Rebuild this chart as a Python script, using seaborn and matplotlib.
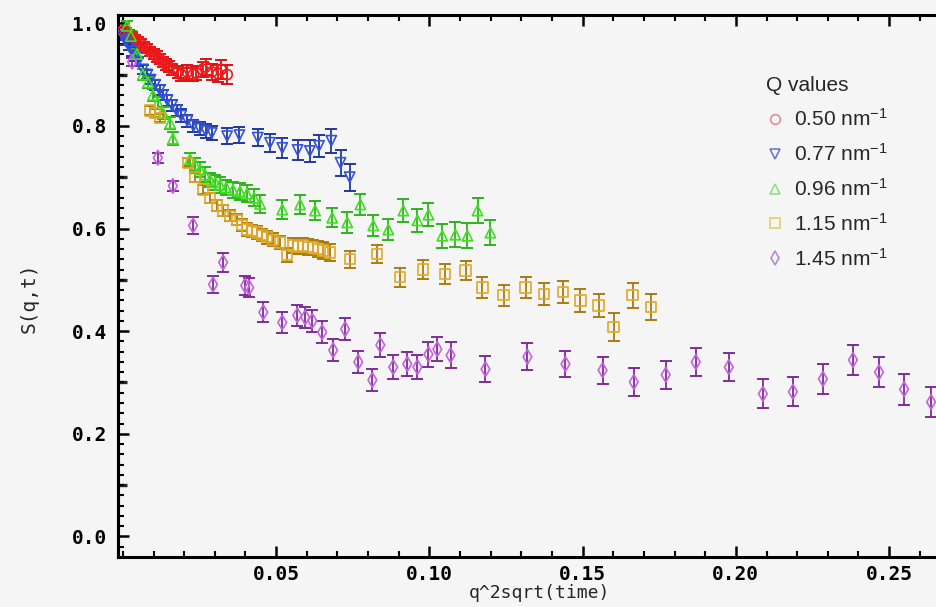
import numpy as np
import pandas as pd
import matplotlib
matplotlib.use("Agg")
import matplotlib.pyplot as plt
from matplotlib.lines import Line2D
from matplotlib.ticker import MultipleLocator, FixedLocator, FormatStrFormatter
import seaborn as sns

# ---------------- data ----------------
q_labels = ["0.50 nm$^{-1}$", "0.77 nm$^{-1}$", "0.96 nm$^{-1}$", "1.15 nm$^{-1}$", "1.45 nm$^{-1}$"]

x_050 = [0.000, 0.001, 0.002, 0.003, 0.004, 0.005, 0.006, 0.007, 0.008, 0.009, 0.010, 0.011, 0.012, 0.013,
         0.014, 0.015, 0.016, 0.018, 0.019, 0.021, 0.023, 0.024, 0.026, 0.027, 0.029, 0.031, 0.032, 0.034]
y_050 = [0.985, 0.982, 0.978, 0.975, 0.970, 0.966, 0.960, 0.955, 0.950, 0.945, 0.940, 0.935, 0.930, 0.925,
         0.920, 0.915, 0.910, 0.905, 0.900, 0.905, 0.900, 0.903, 0.910, 0.915, 0.905, 0.902, 0.910, 0.900]
e_050 = [0.008, 0.008, 0.008, 0.008, 0.008, 0.008, 0.009, 0.009, 0.009, 0.009, 0.010, 0.010, 0.010, 0.010,
         0.011, 0.011, 0.011, 0.012, 0.012, 0.013, 0.013, 0.014, 0.015, 0.016, 0.016, 0.017, 0.018, 0.018]

x_077 = [0.000, 0.001, 0.002, 0.003, 0.004, 0.005, 0.0065, 0.008, 0.009, 0.0105, 0.012, 0.013, 0.0145, 0.016,
         0.0175, 0.019, 0.021, 0.023, 0.025, 0.027, 0.029, 0.034, 0.038, 0.044, 0.048, 0.052, 0.057, 0.061,
         0.064, 0.068, 0.071, 0.074]
y_077 = [0.975, 0.965, 0.955, 0.945, 0.935, 0.925, 0.910, 0.900, 0.890, 0.880, 0.870, 0.860, 0.850, 0.840,
         0.830, 0.820, 0.810, 0.800, 0.795, 0.790, 0.786, 0.780, 0.782, 0.777, 0.767, 0.757, 0.753, 0.751,
         0.761, 0.771, 0.728, 0.700]
e_077 = [0.007, 0.007, 0.007, 0.008, 0.008, 0.008, 0.009, 0.009, 0.009, 0.010, 0.010, 0.010, 0.011, 0.011,
         0.011, 0.012, 0.012, 0.012, 0.013, 0.013, 0.014, 0.015, 0.016, 0.017, 0.018, 0.019, 0.020, 0.021,
         0.022, 0.023, 0.025, 0.026]

x_096 = [0.0013, 0.0026, 0.0046, 0.0065, 0.0082, 0.0098, 0.0114, 0.0131, 0.0154, 0.0163, 0.0219, 0.0235,
         0.0252, 0.0268, 0.0284, 0.0301, 0.0317, 0.0337, 0.0359, 0.0382, 0.0405, 0.0428, 0.0448, 0.0520,
         0.0578, 0.0627, 0.0683, 0.0732, 0.0775, 0.0817, 0.0866, 0.0915, 0.0961, 0.0997, 0.1042, 0.1085,
         0.1124, 0.1157, 0.1199]
y_096 = [0.995, 0.975, 0.940, 0.900, 0.885, 0.860, 0.845, 0.825, 0.805, 0.775, 0.735, 0.725,
         0.715, 0.705, 0.695, 0.690, 0.685, 0.680, 0.675, 0.672, 0.668, 0.660, 0.648, 0.637,
         0.647, 0.635, 0.621, 0.612, 0.647, 0.606, 0.598, 0.635, 0.616, 0.627, 0.586, 0.588,
         0.586, 0.635, 0.592]
e_096 = [0.010, 0.010, 0.010, 0.011, 0.011, 0.011, 0.012, 0.012, 0.012, 0.013, 0.013, 0.013,
         0.014, 0.014, 0.014, 0.015, 0.015, 0.015, 0.016, 0.016, 0.016, 0.017, 0.017, 0.018,
         0.018, 0.019, 0.019, 0.020, 0.020, 0.021, 0.021, 0.022, 0.022, 0.023, 0.023, 0.024,
         0.024, 0.025, 0.025]

x_115 = [0.0088, 0.0105, 0.0121, 0.0212, 0.0235, 0.0261, 0.0284, 0.0307, 0.0327, 0.0350, 0.0373, 0.0389,
         0.0405, 0.0422, 0.0438, 0.0454, 0.0471, 0.0490, 0.0513, 0.0536, 0.0556, 0.0572, 0.0588, 0.0605,
         0.0621, 0.0637, 0.0654, 0.0676, 0.0742, 0.0830, 0.0905, 0.0980, 0.1052, 0.1118, 0.1173, 0.1242,
         0.1314, 0.1373, 0.1435, 0.1493, 0.1552, 0.1601, 0.1663, 0.1722]
y_115 = [0.830, 0.825, 0.815, 0.728, 0.700, 0.676, 0.660, 0.645, 0.635, 0.625, 0.617, 0.607,
         0.598, 0.595, 0.592, 0.587, 0.583, 0.578, 0.573, 0.548, 0.567, 0.565, 0.567, 0.564,
         0.563, 0.560, 0.557, 0.553, 0.540, 0.550, 0.505, 0.520, 0.511, 0.518, 0.485, 0.470,
         0.485, 0.472, 0.476, 0.460, 0.450, 0.408, 0.470, 0.447]
e_115 = [0.008, 0.008, 0.008, 0.009, 0.009, 0.009, 0.010, 0.010, 0.010, 0.011, 0.011, 0.011,
         0.012, 0.012, 0.012, 0.012, 0.013, 0.013, 0.013, 0.014, 0.014, 0.014, 0.015, 0.015,
         0.015, 0.016, 0.016, 0.016, 0.017, 0.017, 0.018, 0.018, 0.019, 0.019, 0.020, 0.020,
         0.021, 0.021, 0.022, 0.022, 0.023, 0.028, 0.024, 0.025]

x_145 = [0.0030, 0.0114, 0.0163, 0.0229, 0.0294, 0.0327, 0.0399, 0.0412, 0.0458, 0.0520, 0.0569, 0.0595,
         0.0618, 0.0650, 0.0686, 0.0725, 0.0768, 0.0814, 0.0840, 0.0882, 0.0928, 0.0961, 0.0997, 0.1026,
         0.1069, 0.1183, 0.1320, 0.1444, 0.1565, 0.1667, 0.1771, 0.1869, 0.1977, 0.2088, 0.2186, 0.2284,
         0.2382, 0.2467, 0.2549, 0.2637]
y_145 = [0.925, 0.738, 0.683, 0.606, 0.491, 0.534, 0.489, 0.485, 0.437, 0.417, 0.431, 0.427,
         0.420, 0.398, 0.363, 0.404, 0.340, 0.305, 0.373, 0.330, 0.336, 0.330, 0.355, 0.365,
         0.353, 0.326, 0.350, 0.336, 0.324, 0.301, 0.315, 0.340, 0.330, 0.278, 0.282, 0.307,
         0.344, 0.320, 0.287, 0.262]
e_145 = [0.008, 0.010, 0.010, 0.016, 0.017, 0.018, 0.018, 0.019, 0.019, 0.020, 0.020, 0.020,
         0.021, 0.021, 0.021, 0.022, 0.022, 0.022, 0.023, 0.023, 0.023, 0.024, 0.024, 0.024,
         0.025, 0.025, 0.026, 0.026, 0.026, 0.027, 0.027, 0.027, 0.028, 0.028, 0.028, 0.029,
         0.029, 0.029, 0.030, 0.030]

x_ticks = [0.05, 0.10, 0.15, 0.20, 0.25]
y_ticks = [0.0, 0.2, 0.4, 0.6, 0.8, 1.0]

# ---------------- styles ----------------
BG = "#f5f5f5"
markers = ["o", "v", "^", "s", "d"]
mark_cols = ["#f01a1a", "#3252e0", "#3ee01e", "#e0a826", "#c662e0"]
bar_cols = ["#d81212", "#22389c", "#2cb41c", "#a87c10", "#7e2c98"]
leg_cols = ["#e08c8c", "#6c7ac4", "#92dc8e", "#e6cc6e", "#b48ad8"]

series = [(x_050, y_050, e_050), (x_077, y_077, e_077), (x_096, y_096, e_096),
          (x_115, y_115, e_115), (x_145, y_145, e_145)]

sns.set_theme(style="ticks")
plt.rcParams['font.family'] = ['DejaVu Sans Mono', 'DejaVu Sans']
plt.rcParams['mathtext.default'] = 'regular'

fig = plt.figure(figsize=(9.36, 6.07), dpi=100, facecolor=BG)
ax = fig.add_axes([118 / 936, 50 / 607, (936 - 118) / 936, (592 - 50) / 607])
ax.set_facecolor(BG)

for i, (xs, ys, es) in enumerate(series):
    df = pd.DataFrame({"x": xs, "y": ys})
    ax.errorbar(xs, ys, yerr=es, fmt="none", ecolor=bar_cols[i], elinewidth=1.3,
                capsize=4.5, capthick=1.4, zorder=2)
    sns.scatterplot(data=df, x="x", y="y", ax=ax, marker=markers[i], s=55,
                    color=mark_cols[i], facecolor="none", edgecolor=mark_cols[i],
                    linewidth=1.2, zorder=3, legend=False)

ax.set_xlim(-0.0016, 0.2653)
ax.set_ylim(-0.040, 1.016)

for side in ["left", "bottom", "top"]:
    ax.spines[side].set_linewidth(2.2)
    ax.spines[side].set_color("black")
ax.spines["right"].set_visible(False)

ax.xaxis.set_major_locator(FixedLocator(x_ticks))
ax.xaxis.set_major_formatter(FormatStrFormatter("%.2f"))
ax.xaxis.set_minor_locator(MultipleLocator(0.01))
ax.yaxis.set_major_locator(FixedLocator(y_ticks))
ax.yaxis.set_major_formatter(FormatStrFormatter("%.1f"))
ax.yaxis.set_minor_locator(MultipleLocator(0.02))

ax.tick_params(axis="x", which="both", direction="in", top=True, bottom=True, colors="black")
ax.tick_params(axis="y", which="both", direction="in", left=True, right=False, colors="black")
ax.tick_params(which="major", length=8, width=1.8, labelsize=14)
ax.tick_params(axis="x", which="major", pad=6)
ax.tick_params(axis="y", which="major", pad=8)
ax.tick_params(which="minor", length=4.5, width=1.5)
for lab in ax.get_xticklabels() + ax.get_yticklabels():
    lab.set_fontweight("bold")

# medium ticks at the odd tenths
sec = ax.secondary_yaxis("left")
sec.set_yticks([0.1, 0.3, 0.5, 0.7, 0.9])
sec.tick_params(direction="in", length=6.5, width=2.4, labelleft=False)
sec.yaxis.set_minor_locator(FixedLocator([]))
sec.spines["left"].set_linewidth(2.2)

ax.set_xlabel("q^2sqrt(time)", fontsize=13)
ax.set_ylabel("S(q,t)", fontsize=14)
ax.xaxis.set_label_coords((539 - 118) / 818, -0.049)
ax.yaxis.set_label_coords((39 - 118) / 818, (557 - 298) / 542)

handles = [Line2D([], [], marker=markers[i], ls="none", mfc="none", mec=leg_cols[i],
                  ms=7, mew=1.2) for i in range(5)]
leg = ax.legend(handles, q_labels, title="Q values", loc="upper left",
                bbox_to_anchor=(756 / 936, 1 - 66 / 607), bbox_transform=fig.transFigure,
                frameon=False, prop={"family": "Liberation Sans", "size": 15},
                title_fontproperties={"family": "Liberation Sans", "size": 15},
                handlelength=0.8, handletextpad=0.5, labelspacing=0.62, borderpad=0,
                alignment="left")

fig.savefig("out.png", dpi=100, facecolor=BG)
